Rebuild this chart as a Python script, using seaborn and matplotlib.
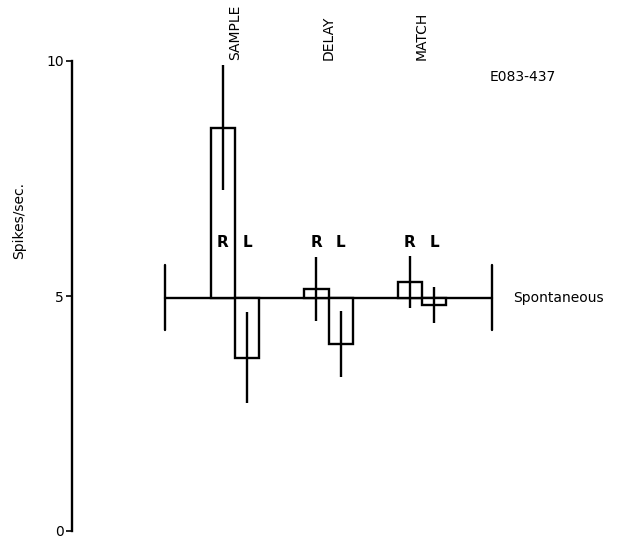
import numpy as np
import pandas as pd
import matplotlib
matplotlib.use("Agg")
import matplotlib.pyplot as plt
import seaborn as sns

# ---- data ----
groups = ["SAMPLE", "DELAY", "MATCH"]
r_rate = [8.58, 5.15, 5.30]
l_rate = [3.69, 3.98, 4.81]
r_err = [1.33, 0.69, 0.55]
l_err = [0.97, 0.70, 0.38]
spont = 4.95
yticks = [0, 5, 10]

sns.set_theme(style="white")
plt.rcParams["font.family"] = ["DejaVu Sans"]
plt.rcParams["text.color"] = "black"

fig = plt.figure(figsize=(6.18, 5.39), dpi=100)
ax = fig.add_axes([72 / 618, 1 - 531 / 539, (612 - 72) / 618, (531 - 61) / 539])

pos = np.arange(len(groups))
off = 0.13
w = 0.26
df = pd.DataFrame({
    "x": np.concatenate([pos - off, pos + off]),
    "rate": r_rate + l_rate,
    "err": r_err + l_err,
    "side": ["R"] * 3 + ["L"] * 3,
})

ax.bar(df["x"], df["rate"] - spont, bottom=spont, width=w,
       facecolor="white", edgecolor="black", linewidth=1.7, zorder=2)
ax.errorbar(df["x"], df["rate"], yerr=df["err"], fmt="none",
            ecolor="black", elinewidth=1.7, capsize=0, zorder=3)

# spontaneous baseline
sns.lineplot(x=[-0.75, 2.75], y=[spont, spont], ax=ax, color="black",
             linewidth=1.7, zorder=1)
for xc in (-0.75, 2.75):
    ax.plot([xc, xc], [spont - 0.68, spont + 0.72], color="black", lw=1.7)

fs = 10
for i, g in enumerate(groups):
    ax.text(pos[i], 10.02, g, rotation=90, ha="center", va="bottom",
            fontsize=fs, color="black", clip_on=False)
for _, row in df.iterrows():
    ax.text(row["x"], 6.14, row["side"], ha="center", va="center",
            fontsize=11, fontweight="bold", color="black")

ax.text(3.08, 9.66, "E083-437", ha="center", va="center", fontsize=fs, color="black")
ax.text(2.97, spont, "Spontaneous", ha="left", va="center", fontsize=fs, color="black")
ax.text(-2.31, 6.6, "Spikes/sec.", rotation=90, ha="center", va="center",
        fontsize=fs, color="black", clip_on=False)

ax.set_xlim((72 - 235) / 93.5, (612 - 235) / 93.5)
ax.set_ylim(0, 10)
ax.set_yticks(yticks)
ax.set_yticklabels([str(t) for t in yticks], fontsize=fs, color="black")
ax.set_xticks([])
sns.despine(ax=ax, top=True, right=True, bottom=True)
ax.spines["left"].set_linewidth(1.7)
ax.spines["left"].set_color("black")
ax.tick_params(axis="y", direction="out", length=4, width=1.2, pad=2,
               colors="black", left=True)
ax.set_facecolor("white")
ax.grid(False)

fig.savefig("out.png", dpi=100, facecolor="white")
